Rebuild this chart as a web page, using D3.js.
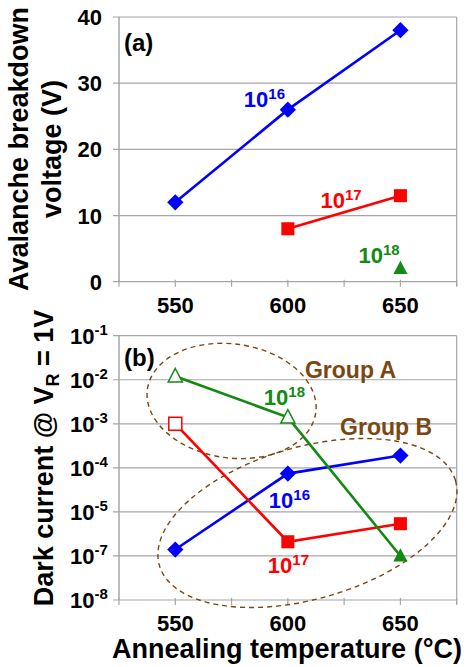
<!DOCTYPE html>
<html>
<head>
<meta charset="utf-8">
<script src="https://cdn.jsdelivr.net/npm/d3@7"></script>
<style>
  body { margin: 0; background: #fff; }
  svg { display: block; font-family: "Liberation Sans", Arial, sans-serif; font-weight: bold; }
</style>
</head>
<body>
<div id="chart"></div>
<script>
// annealing temperatures (deg C)
var temps = [550, 600, 650];
// (a) avalanche breakdown voltage (V), null = no point
var vbd16 = [12, 26, 38];
var vbd17 = [null, 8, 13];
var vbd18 = [null, null, 2];
// (b) dark current @ VR = 1V
var dark16 = [1.4e-6, 7.4e-5, 1.9e-4];
var dark17 = [1e-3, 2.1e-6, 5.4e-6];
var dark18 = [1.2e-2, 1.4e-3, 1e-6];
// which points are drawn hollow in (b)
var open17 = [true, false, false];
var open18 = [true, true, false];

var xTicks = [550, 600, 650];
var xMinor = [525, 550, 575, 600, 625, 650, 675];
var vbdTicks = [0, 10, 20, 30, 40];
var darkTicks = [1e-1, 1e-2, 1e-3, 1e-4, 1e-5, 1e-6, 1e-7];
var darkTickExp = ["-1", "-2", "-3", "-4", "-5", "-7", "-8"]; // as printed on the figure

var W = 468, H = 667;
var blue = "#0000ff", red = "#ff0000", green = "#138a13", brown = "#7a4714";
var gridCol = "#a6a6a6";

var svg = d3.select("#chart").append("svg")
    .attr("width", W).attr("height", H);

var x = d3.scaleLinear().domain([525, 675]).range([119, 456.7]);
var yA = d3.scaleLinear().domain([0, 40]).range([281.7, 17]);
var yB = d3.scaleLog().domain([1e-7, 1e-1]).range([600, 335.7]);

// excel-ish marker shapes
var diamond = {draw: function(c, s) { var r = Math.sqrt(s) / 2 * Math.SQRT2;
    c.moveTo(0, -r); c.lineTo(r, 0); c.lineTo(0, r); c.lineTo(-r, 0); c.closePath(); }};
var triangle = {draw: function(c, s) { var r = Math.sqrt(s) / 2;
    c.moveTo(0, -r * 1.1); c.lineTo(r, r * 0.8); c.lineTo(-r, r * 0.8); c.closePath(); }};

function frame(y, ticks, bottom, top) {
    var g = svg.append("g");
    // horizontal grid
    g.selectAll(".grid").data(ticks).join("line")
        .attr("x1", x.range()[0] - 6).attr("x2", x.range()[1])
        .attr("y1", d => y(d)).attr("y2", d => y(d))
        .attr("stroke", gridCol).attr("stroke-width", 1.2);
    // left + right border
    g.append("line").attr("x1", x.range()[0]).attr("x2", x.range()[0])
        .attr("y1", top).attr("y2", bottom).attr("stroke", gridCol).attr("stroke-width", 1.5);
    g.append("line").attr("x1", x.range()[1]).attr("x2", x.range()[1])
        .attr("y1", top).attr("y2", bottom + 4).attr("stroke", gridCol).attr("stroke-width", 1.2);
    // x ticks
    g.selectAll(".xt").data(xMinor).join("line")
        .attr("x1", d => x(d)).attr("x2", d => x(d))
        .attr("y1", bottom - 2).attr("y2", bottom + 5)
        .attr("stroke", gridCol).attr("stroke-width", 1.2);
    g.selectAll(".xl").data(xTicks).join("text")
        .attr("x", d => x(d)).attr("y", bottom + 31)
        .attr("text-anchor", "middle").attr("font-size", 22)
        .text(d => d);
    return g;
}

// ---- panel (a)
var gA = frame(yA, vbdTicks, yA(0), yA(40));
gA.selectAll(".yl").data(vbdTicks).join("text")
    .attr("x", 102).attr("y", d => yA(d) + 8)
    .attr("text-anchor", "end").attr("font-size", 22)
    .text(d => d);

// ---- panel (b)
var gB = frame(yB, darkTicks, yB(1e-7), yB(1e-1));
var tl = gB.selectAll(".yl").data(darkTicks).join("text")
    .attr("x", 70).attr("y", d => yB(d) + 8)
    .attr("font-size", 22);
tl.append("tspan").text("10");
tl.append("tspan").attr("dy", -9).attr("font-size", 15)
    .text((d, i) => darkTickExp[i]);

// panel letters
svg.append("text").attr("x", 124).attr("y", 51).attr("font-size", 24).text("(a)");
svg.append("text").attr("x", 124).attr("y", 366).attr("font-size", 24).text("(b)");

// group ellipses
var groups = [
    {name: "Group A", cx: 575, cy: 3.3e-3, rx: 85, ry: 57, rot: 8, lx: 607.6, ly: 1.1e-2},
    {name: "Group B", cx: 608.7, cy: 5.6e-6, rx: 154, ry: 76, rot: -16, lx: 623.2, ly: 5.5e-4}
];
groups.forEach(function(gr) {
    svg.append("ellipse")
        .attr("transform", "translate(" + x(gr.cx) + "," + yB(gr.cy) + ") rotate(" + gr.rot + ")")
        .attr("rx", gr.rx).attr("ry", gr.ry)
        .attr("fill", "none").attr("stroke", brown)
        .attr("stroke-width", 1.4).attr("stroke-dasharray", "5 4");
    svg.append("text").attr("x", x(gr.lx)).attr("y", yB(gr.ly))
        .attr("font-size", 23).attr("fill", brown).text(gr.name);
});

// ---- series drawing
function series(y, vals, col, shape, size, open) {
    var pts = temps.map((t, i) => ({t: t, v: vals[i], open: open ? open[i] : false}))
        .filter(d => d.v != null);
    var line = d3.line().x(d => x(d.t)).y(d => y(d.v));
    svg.append("path").datum(pts).attr("d", line)
        .attr("fill", "none").attr("stroke", col).attr("stroke-width", 2.6);
    var sym = d3.symbol().type(shape).size(size);
    svg.selectAll(null).data(pts).join("path")
        .attr("transform", d => "translate(" + x(d.t) + "," + y(d.v) + ")")
        .attr("d", sym)
        .attr("fill", d => d.open ? "#fff" : col)
        .attr("stroke", col).attr("stroke-width", d => d.open ? 1.5 : 0);
    return pts;
}

function conc(px, py, exp, col) {
    var t = svg.append("text").attr("x", px).attr("y", py)
        .attr("font-size", 22).attr("fill", col);
    t.append("tspan").text("10");
    t.append("tspan").attr("dy", -8).attr("font-size", 15).text(exp);
}

series(yA, vbd16, blue, diamond, 132);
series(yA, vbd17, red, d3.symbolSquare, 170);
series(yA, vbd18, green, triangle, 200);

series(yB, dark16, blue, diamond, 132);
series(yB, dark17, red, d3.symbolSquare, 170, open17);
series(yB, dark18, green, triangle, 200, open18);

// concentration labels next to the points
conc(x(600) - 44, yA(vbd16[1]) - 3, "16", blue);
conc(x(650) - 80, yA(vbd17[2]) + 12, "17", red);
conc(x(650) - 42, yA(vbd18[2]) - 5, "18", green);
conc(x(600) - 19, yB(dark16[1]) + 34, "16", blue);
conc(x(600) - 20, yB(dark17[1]) + 31, "17", red);
conc(x(600) - 24, yB(dark18[1]) - 12, "18", green);

// axis titles
var tA = svg.append("text").attr("transform", "translate(0,149) rotate(-90)")
    .attr("text-anchor", "middle").attr("font-size", 27);
tA.append("tspan").attr("x", 0).attr("y", 28).text("Avalanche breakdown");
tA.append("tspan").attr("x", 0).attr("y", 61).text("voltage (V)");

var tB = svg.append("text").attr("transform", "translate(53,458) rotate(-90)")
    .attr("text-anchor", "middle").attr("font-size", 27);
tB.append("tspan").text("Dark current @ V");
tB.append("tspan").attr("dy", 6).attr("font-size", 18).text("R");
tB.append("tspan").attr("dy", -6).text(" = 1V");

svg.append("text").attr("x", 287).attr("y", 658)
    .attr("text-anchor", "middle").attr("font-size", 27)
    .text("Annealing temperature (\u00B0C)");
</script>
</body>
</html>
